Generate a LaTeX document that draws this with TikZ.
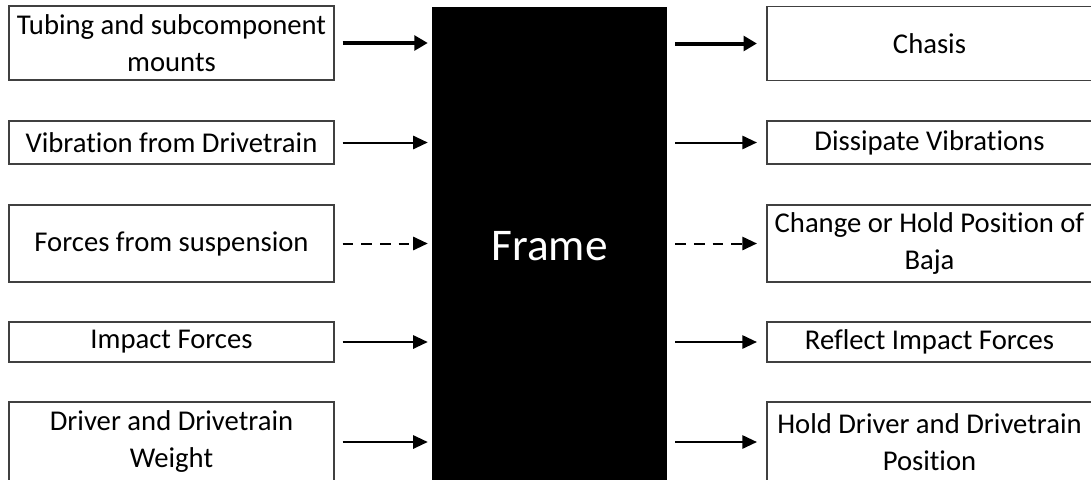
\documentclass[tikz,border=0pt]{standalone}
\usepackage{fontspec}
\setmainfont{Carlito}[Ligatures=NoCommon]
\usetikzlibrary{arrows.meta}

\tikzset{
  fbox/.style={draw=black!75, line width=1.1pt, rectangle, inner sep=0pt,
    minimum width=243.75pt, align=center,
    font=\fontsize{21.5}{27.75}\selectfont},
  flow/.style={line width=1.5pt, -{Triangle[length=11pt,width=10pt]}},
  bigflow/.style={line width=3pt, -{Triangle[length=10pt,width=11pt]}},
  inflow/.style={shorten <=6pt, shorten >=3pt},
  outflow/.style={shorten <=6pt, shorten >=7pt}
}

\begin{document}
\begin{tikzpicture}[x=0.75pt, y=-0.75pt]
    \clip (0,0) rectangle (1091,479);
    \fill[white] (0,0) rectangle (1091,479);

    \node[fill=black, text=white, minimum width=176.25pt, minimum height=358.5pt,
      font=\fontsize{34}{40}\selectfont] (frame) at (549.5,246) {Frame};

    % inputs
    \node[fbox, minimum height=55.5pt]  (in1) at (171.5,43)    {Tubing and subcomponent\\mounts};
    \node[fbox, minimum height=32.25pt] (in2) at (171.5,142.5) {Vibration from Drivetrain};
    \node[fbox, minimum height=57.75pt] (in3) at (171.5,243.5) {Forces from suspension};
    \node[fbox, minimum height=30pt]    (in4) at (171.5,342)   {Impact Forces};
    \node[fbox, minimum height=60pt]    (in5) at (171.5,442)   {Driver and Drivetrain\\Weight};

    % outputs
    \node[fbox, minimum height=55.5pt]  (out1) at (929.5,43.5)  {Chasis};
    \node[fbox, minimum height=32.25pt] (out2) at (929.5,142.5) {Dissipate Vibrations};
    \node[fbox, minimum height=57.75pt] (out3) at (929.5,243.5) {Change or Hold Position of\\Baja};
    \node[fbox, minimum height=30pt]    (out4) at (929.5,342)   {Reflect Impact Forces};
    \node[fbox, minimum height=60pt]    (out5) at (929.5,442)   {Hold Driver and Drivetrain\\Position};

    \draw[bigflow, inflow] (in1.east) -- (in1.east -| frame.west);
    \draw[flow, inflow] (in2.east) -- (in2.east -| frame.west);
    \draw[flow, inflow, dash pattern=on 8pt off 6pt] (in3.east) -- (in3.east -| frame.west);
    \draw[flow, inflow] (in4.east) -- (in4.east -| frame.west);
    \draw[flow, inflow] (in5.east) -- (in5.east -| frame.west);

    \draw[bigflow, outflow] (out1.west -| frame.east) -- (out1.west);
    \draw[flow, outflow] (out2.west -| frame.east) -- (out2.west);
    \draw[flow, outflow, dash pattern=on 8pt off 6pt] (out3.west -| frame.east) -- (out3.west);
    \draw[flow, outflow] (out4.west -| frame.east) -- (out4.west);
    \draw[flow, outflow] (out5.west -| frame.east) -- (out5.west);
\end{tikzpicture}
\end{document}
